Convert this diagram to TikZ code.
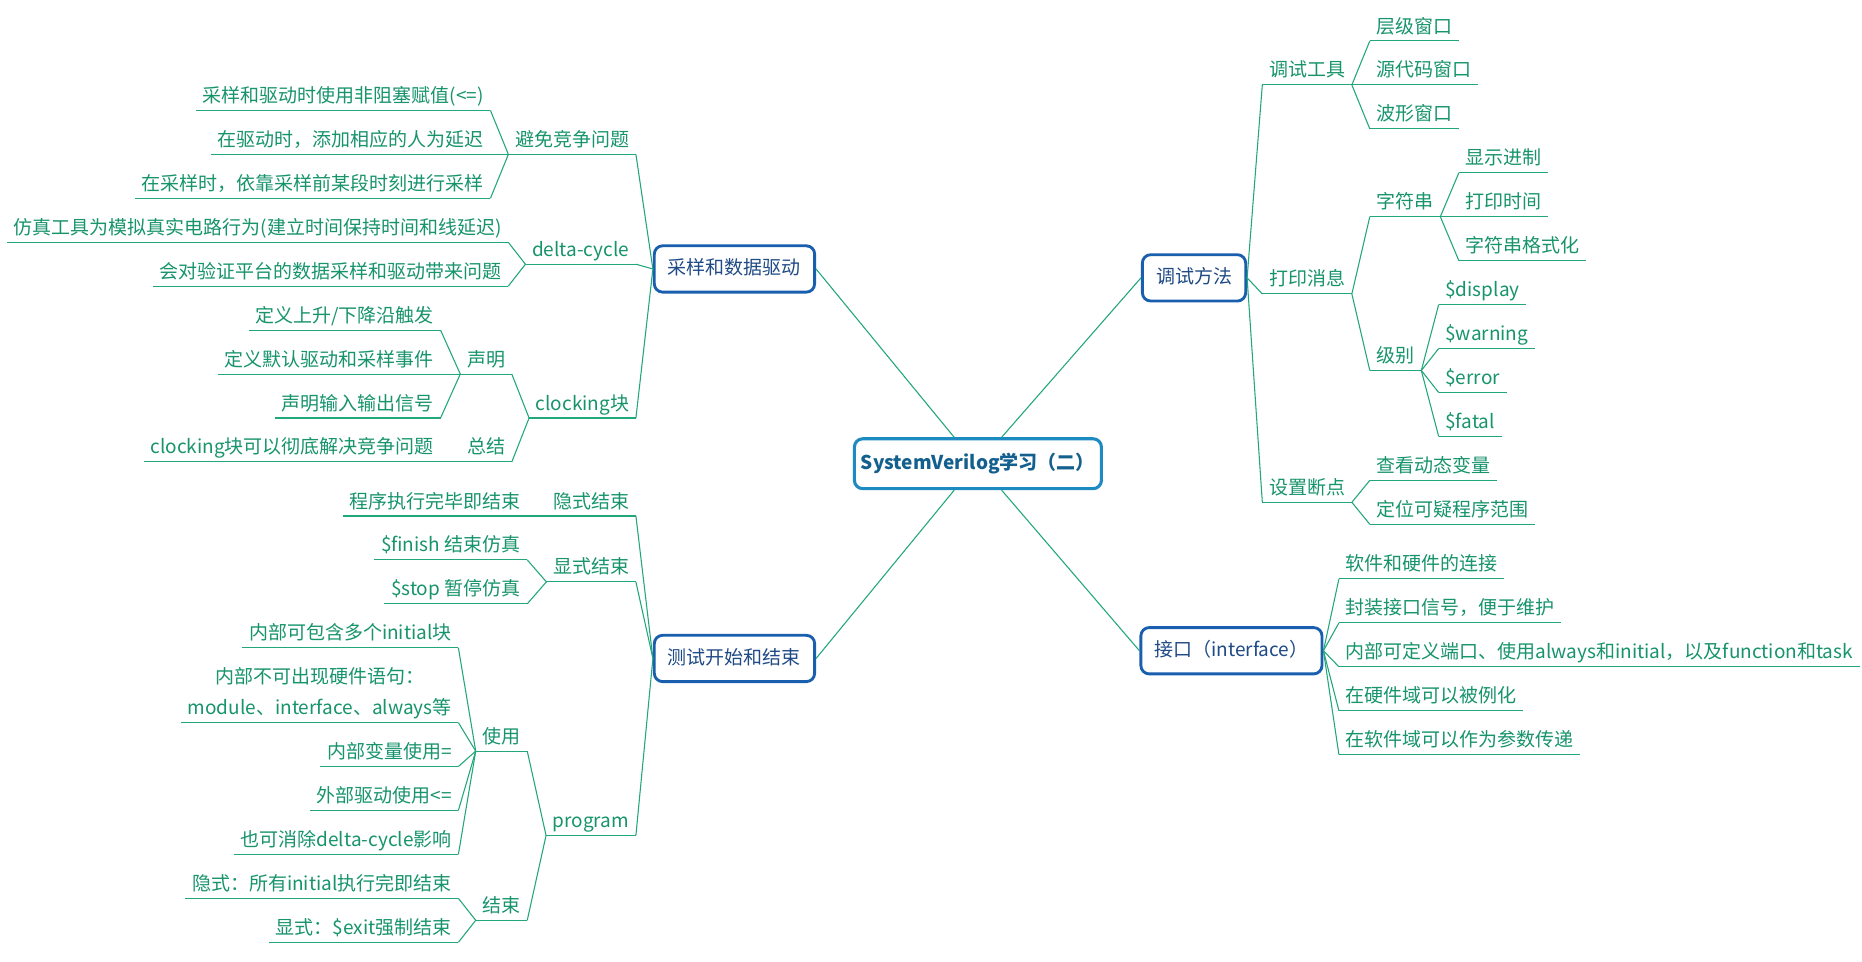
\documentclass[tikz,border=0pt]{standalone}
\usepackage{fontspec}
\setmainfont{Noto Sans CJK SC}
\usepackage{xcolor}
\usepackage{tikz}

\definecolor{branchgreen}{HTML}{22A67C}
\definecolor{topicgreen}{HTML}{17946C}
\definecolor{boxblue}{HTML}{1A5FAE}
\definecolor{boxtext}{HTML}{1F4A86}
\definecolor{rootblue}{HTML}{1E8AC2}
\definecolor{roottext}{HTML}{135F8E}

\tikzset{
  branch/.style={draw=branchgreen, line width=0.9pt},
  root/.style={draw=rootblue, line width=2.6pt, rounded corners=7pt, fill=white,
    text=roottext, font=\fontsize{16}{20}\selectfont\bfseries,
    minimum width=208pt, minimum height=42pt},
  mainbox/.style={draw=boxblue, line width=2.4pt, rounded corners=7pt, fill=white,
    text=boxtext, font=\fontsize{16}{20}\selectfont,
    inner xsep=11.5pt, inner ysep=11.5pt, text height=13pt, text depth=3pt},
  topic/.style={text=topicgreen, font=\fontsize{16}{26}\selectfont,
    inner xsep=5.5pt, inner ysep=3pt, text height=12.5pt, text depth=3.5pt,
    append after command={(\tikzlastnode.south west) edge[branch] (\tikzlastnode.south east)}},
  ltopic/.style={topic, anchor=south east},
  rtopic/.style={topic, anchor=south west},
}

\begin{document}
\begin{tikzpicture}[x=1pt, y=-1pt]

\useasboundingbox[fill=white] (0,0) rectangle (1568,810);

% Root
\node[root] (root) at (823.5,390.5) {SystemVerilog学习（二）};

% Main branches
\node[mainbox] (samp) at (618.5,226.5) {采样和数据驱动};
\node[mainbox] (test) at (618.5,554.5) {测试开始和结束};
\node[mainbox] (dbg) at (1005.5,234) {调试方法};
\node[mainbox] (intf) at (1037,548) {接口（interface）};

\draw[branch] ([xshift=-20pt]root.north) -- (samp.east);
\draw[branch] ([xshift=20pt]root.north) -- (dbg.west);
\draw[branch] ([xshift=-20pt]root.south) -- (test.east);
\draw[branch] ([xshift=20pt]root.south) -- (intf.west);

%==============================================================================
% 采样和数据驱动
\node[ltopic] (avoid) at (535.5,130) {避免竞争问题};
\node[ltopic] (avoid1) at (413,93) {采样和驱动时使用非阻塞赋值(<=)};
\node[ltopic] (avoid2) at (413,130) {在驱动时，添加相应的人为延迟};
\node[ltopic] (avoid3) at (413,167) {在采样时，依靠采样前某段时刻进行采样};

\node[ltopic] (delta) at (535.5,222.5) {delta-cycle};
\node[ltopic] (delta1) at (428,204) {仿真工具为模拟真实电路行为(建立时间保持时间和线延迟)};
\node[ltopic] (delta2) at (428,241) {会对验证平台的数据采样和驱动带来问题};

\node[ltopic] (clk) at (535.5,352) {clocking块};
\node[ltopic] (decl) at (431,315) {声明};
\node[ltopic] (decl1) at (371,278) {定义上升/下降沿触发};
\node[ltopic] (decl2) at (371,315) {定义默认驱动和采样事件};
\node[ltopic] (decl3) at (371,352) {声明输入输出信号};
\node[ltopic] (sum) at (431,389) {总结};
\node[ltopic] (sum1) at (371,389) {clocking块可以彻底解决竞争问题};

\draw[branch] (samp.west) -- (avoid.south east);
\draw[branch] (samp.west) -- (delta.south east);
\draw[branch] (samp.west) -- (clk.south east);
\draw[branch] (avoid.south west) -- (avoid1.south east);
\draw[branch] (avoid.south west) -- (avoid2.south east);
\draw[branch] (avoid.south west) -- (avoid3.south east);
\draw[branch] (delta.south west) -- (delta1.south east);
\draw[branch] (delta.south west) -- (delta2.south east);
\draw[branch] (clk.south west) -- (decl.south east);
\draw[branch] (clk.south west) -- (sum.south east);
\draw[branch] (decl.south west) -- (decl1.south east);
\draw[branch] (decl.south west) -- (decl2.south east);
\draw[branch] (decl.south west) -- (decl3.south east);
\draw[branch] (sum.south west) -- (sum1.south east);

%==============================================================================
% 测试开始和结束
\node[ltopic] (imp) at (535.5,434.5) {隐式结束};
\node[ltopic] (imp1) at (444,434.5) {程序执行完毕即结束};

\node[ltopic] (exp) at (535.5,490) {显式结束};
\node[ltopic] (exp1) at (444,471.5) {\$finish 结束仿真};
\node[ltopic] (exp2) at (444,508.5) {\$stop 暂停仿真};

\node[ltopic] (prog) at (535.5,703.5) {program};
\node[ltopic] (use) at (444,632.5) {使用};
\node[ltopic] (use1) at (386,545.5) {内部可包含多个initial块};
\node[ltopic, text height=38.5pt] (use2) at (386,608.5)
  {\begin{tabular}[b]{@{}c@{}}内部不可出现硬件语句：\\module、interface、always等\end{tabular}};
\node[ltopic] (use3) at (386,645.5) {内部变量使用=};
\node[ltopic] (use4) at (386,682.5) {外部驱动使用<=};
\node[ltopic] (use5) at (386,719.5) {也可消除delta-cycle影响};
\node[ltopic] (fin) at (444,775) {结束};
\node[ltopic] (fin1) at (386,756.5) {隐式：所有initial执行完即结束};
\node[ltopic] (fin2) at (386,793.5) {显式：\$exit强制结束};

\draw[branch] (test.west) -- (imp.south east);
\draw[branch] (test.west) -- (exp.south east);
\draw[branch] (test.west) -- (prog.south east);
\draw[branch] (imp.south west) -- (imp1.south east);
\draw[branch] (exp.south west) -- (exp1.south east);
\draw[branch] (exp.south west) -- (exp2.south east);
\draw[branch] (prog.south west) -- (use.south east);
\draw[branch] (prog.south west) -- (fin.south east);
\draw[branch] (use.south west) -- (use1.south east);
\draw[branch] (use.south west) -- (use2.south east);
\draw[branch] (use.south west) -- (use3.south east);
\draw[branch] (use.south west) -- (use4.south east);
\draw[branch] (use.south west) -- (use5.south east);
\draw[branch] (fin.south west) -- (fin1.south east);
\draw[branch] (fin.south west) -- (fin2.south east);

%==============================================================================
% 调试方法
\node[rtopic] (tool) at (1063,71.5) {调试工具};
\node[rtopic] (tool1) at (1153.5,34.5) {层级窗口};
\node[rtopic] (tool2) at (1153.5,71.5) {源代码窗口};
\node[rtopic] (tool3) at (1153.5,108.5) {波形窗口};

\node[rtopic] (print) at (1063,247.5) {打印消息};
\node[rtopic] (str) at (1153.5,182.5) {字符串};
\node[rtopic] (str1) at (1228.5,145.5) {显示进制};
\node[rtopic] (str2) at (1228.5,182.5) {打印时间};
\node[rtopic] (str3) at (1228.5,219.5) {字符串格式化};
\node[rtopic] (lvl) at (1153.5,312) {级别};
\node[rtopic] (lvl1) at (1211.5,256.5) {\$display};
\node[rtopic] (lvl2) at (1211.5,293.5) {\$warning};
\node[rtopic] (lvl3) at (1211.5,330.5) {\$error};
\node[rtopic] (lvl4) at (1211.5,367.5) {\$fatal};

\node[rtopic] (brk) at (1063,423) {设置断点};
\node[rtopic] (brk1) at (1153.5,404.5) {查看动态变量};
\node[rtopic] (brk2) at (1153.5,441.5) {定位可疑程序范围};

\draw[branch] (dbg.east) -- (tool.south west);
\draw[branch] (dbg.east) -- (print.south west);
\draw[branch] (dbg.east) -- (brk.south west);
\draw[branch] (tool.south east) -- (tool1.south west);
\draw[branch] (tool.south east) -- (tool2.south west);
\draw[branch] (tool.south east) -- (tool3.south west);
\draw[branch] (print.south east) -- (str.south west);
\draw[branch] (print.south east) -- (lvl.south west);
\draw[branch] (str.south east) -- (str1.south west);
\draw[branch] (str.south east) -- (str2.south west);
\draw[branch] (str.south east) -- (str3.south west);
\draw[branch] (lvl.south east) -- (lvl1.south west);
\draw[branch] (lvl.south east) -- (lvl2.south west);
\draw[branch] (lvl.south east) -- (lvl3.south west);
\draw[branch] (lvl.south east) -- (lvl4.south west);
\draw[branch] (brk.south east) -- (brk1.south west);
\draw[branch] (brk.south east) -- (brk2.south west);

%==============================================================================
% 接口
\node[rtopic] (if1) at (1127.5,487.5) {软件和硬件的连接};
\node[rtopic] (if2) at (1127.5,524.5) {封装接口信号，便于维护};
\node[rtopic] (if3) at (1127.5,561.5) {内部可定义端口、使用always和initial，以及function和task};
\node[rtopic] (if4) at (1127.5,598.5) {在硬件域可以被例化};
\node[rtopic] (if5) at (1127.5,635.5) {在软件域可以作为参数传递};

\draw[branch] (intf.east) -- (if1.south west);
\draw[branch] (intf.east) -- (if2.south west);
\draw[branch] (intf.east) -- (if3.south west);
\draw[branch] (intf.east) -- (if4.south west);
\draw[branch] (intf.east) -- (if5.south west);

\end{tikzpicture}
\end{document}
